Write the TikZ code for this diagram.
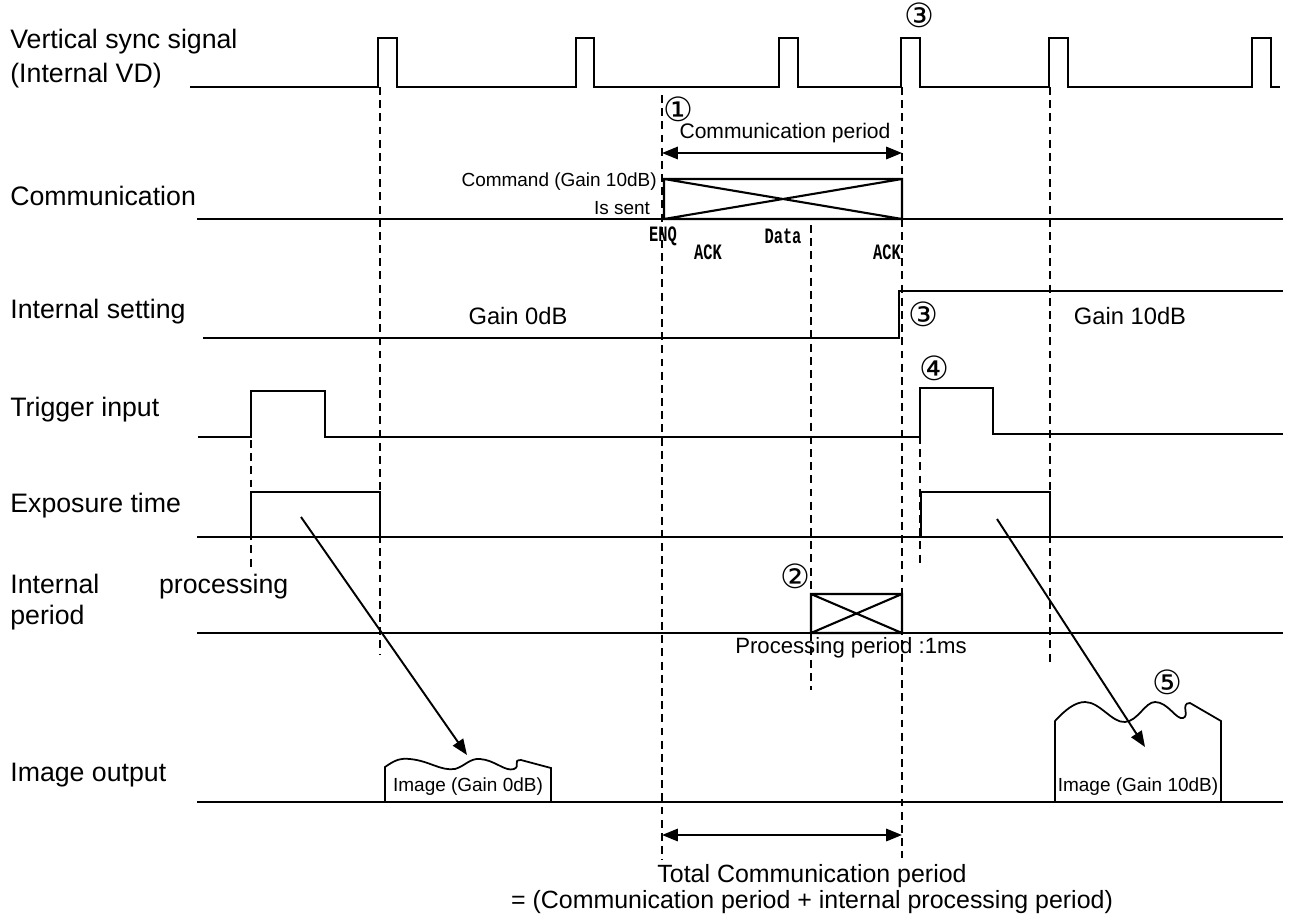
\documentclass[tikz,border=0pt]{standalone}
\usepackage{fontspec}
\setmainfont{Liberation Sans}
\newfontfamily\circfont{DejaVu Sans}
\newfontfamily\codefont{Liberation Mono}
\usetikzlibrary{arrows.meta}

\begin{document}
\begin{tikzpicture}[
    x=0.02cm, y=-0.02cm,
    >={Triangle[length=9pt,width=7pt]},
    signal/.style={line width=1.2pt, line join=miter},
    guide/.style={line width=0.8pt, dash pattern=on 4.5pt off 3pt},
    span/.style={<->, line width=1.2pt},
    pointer/.style={->, line width=1.1pt},
    rowname/.style={anchor=west, inner sep=0pt, font=\fontsize{15.2}{19.4}\selectfont},
    note/.style={inner sep=0pt, font=\fontsize{13.5}{17}\selectfont},
    small/.style={inner sep=0pt, font=\fontsize{10.8}{13}\selectfont},
    code/.style={inner sep=0pt, font=\codefont\bfseries\fontsize{12.5}{14}\selectfont},
    mark number/.style={inner sep=0pt, font=\circfont\fontsize{19}{21}\selectfont},
    crossbox/.style={line width=1.2pt}
]
\useasboundingbox (0,0) rectangle (1293,916);

% Row names
\node[rowname, align=left] (vdname) at (10,59) {Vertical sync signal\\(Internal VD)};
\node[rowname] (comname) at (10,196) {Communication};
\node[rowname] (setname) at (10,312) {Internal setting};
\node[rowname] (trgname) at (10,410) {Trigger input};
\node[rowname] (expname) at (10,506) {Exposure time};
\node[rowname, align=left, text width=5.56cm, font=\fontsize{15.2}{17.6}\selectfont] (procname) at (10,602) {Internal\hfill processing\\period};
\node[rowname] (imgname) at (10,775) {Image output};

% Guide lines
\draw[guide] (380,87) -- (380,655);
\draw[guide] (662,95) -- (662,860);
\draw[guide] (811,225) -- (811,690);
\draw[guide] (902,87) -- (902,858);
\draw[guide] (1050,87) -- (1050,662);
\draw[guide] (251,440) -- (251,570);
\draw[guide] (920,436) -- (920,565);

% Vertical sync signal
\draw[signal] (190,87) -- (378,87) -- (378,38) -- (397,38) -- (397,87)
    -- (576,87) -- (576,38) -- (594,38) -- (594,87)
    -- (779,87) -- (779,38) -- (798,38) -- (798,87)
    -- (901,87) -- (901,38) -- (920,38) -- (920,87)
    -- (1049,87) -- (1049,38) -- (1068,38) -- (1068,87)
    -- (1252,87) -- (1252,38) -- (1271,38) -- (1271,87) -- (1280,87);
\node[mark number] (n3a) at (919,15) {③};

% Communication
\draw[signal] (197,219) -- (1283,219);
\draw[crossbox] (664,179) rectangle (902,219) (664,179) -- (902,219) (664,219) -- (902,179);
\draw[span] (662,153) -- (902,153);
\node[mark number] (n1) at (678,109) {①};
\node[note, font=\fontsize{12}{14}\selectfont] (comperiod) at (785,133) {Communication period};
\node[small, anchor=east] (cmd) at (657,182) {Command (Gain 10dB)};
\node[small] (sent) at (622,208) {Is sent};
\node[code] (enq) at (663,236) {\scalebox{0.7}[1]{ENQ}};
\node[code] (ack1) at (708,252) {\scalebox{0.7}[1]{ACK}};
\node[code] (data) at (783,236) {\scalebox{0.7}[1]{Data}};
\node[code] (ack2) at (887,252) {\scalebox{0.7}[1]{ACK}};

% Internal setting
\draw[signal] (203,338) -- (899,338) -- (899,291) -- (1283,291);
\node[note] (gain0) at (518,316) {Gain 0dB};
\node[note] (gain10) at (1130,316) {Gain 10dB};
\node[mark number] (n3b) at (923,314) {③};

% Trigger input
\draw[signal] (198,437) -- (251,437) -- (251,391) -- (325,391) -- (325,437)
    -- (920,437) -- (920,388) -- (993,388) -- (993,434) -- (1283,434);
\node[mark number] (n4) at (934,368) {④};

% Exposure time
\draw[signal] (197,537) -- (1283,537);
\draw[signal] (251,537) -- (251,492) -- (380,492) -- (380,537);
\draw[signal] (921,537) -- (921,492) -- (1050,492) -- (1050,537);

% Internal processing period
\draw[signal] (197,633) -- (1283,633);
\draw[crossbox] (811,594) rectangle (902,633) (811,594) -- (902,633) (811,633) -- (902,594);
\node[mark number] (n2) at (795,576) {②};
\node[note, font=\fontsize{12.6}{14}\selectfont] (procperiod) at (851,648) {Processing period :1ms};

% Image output
\draw[signal] (197,802) -- (1283,802);
\draw[line width=1pt] (385,802) -- (385,767) .. controls (395,760) and (400,758) .. (410,759)
    .. controls (430,761) and (440,771) .. (455,769) .. controls (465,766) and (470,758) .. (480,759)
    .. controls (495,760) and (505,772) .. (514,769) .. controls (521,766) and (512,760) .. (521,760)
    -- (551,768) -- (551,802);
\draw[line width=1pt] (1055,802) -- (1055,721) .. controls (1065,710) and (1075,702) .. (1085,702)
    .. controls (1100,702) and (1112,723) .. (1125,722) .. controls (1138,721) and (1145,702) .. (1155,702)
    .. controls (1168,702) and (1176,720) .. (1183,718) .. controls (1190,716) and (1180,703) .. (1190,703)
    -- (1221,721) -- (1221,802);
\node[small] (img0) at (468,787) {Image (Gain 0dB)};
\node[small] (img10) at (1138,787) {Image (Gain 10dB)};
\node[mark number] (n5) at (1167,682) {⑤};
\coordinate (tip0) at (467,755);
\coordinate (tip10) at (1145,747);
\draw[pointer] (301,517) -- (tip0);
\draw[pointer] (997,519) -- (tip10);

% Total communication period
\draw[span] (662,835) -- (902,835);
\node[note, align=center, font=\fontsize{14.2}{14.5}\selectfont] (total) at (812,889) {Total Communication period\\= (Communication period + internal processing period)};

\end{tikzpicture}
\end{document}
